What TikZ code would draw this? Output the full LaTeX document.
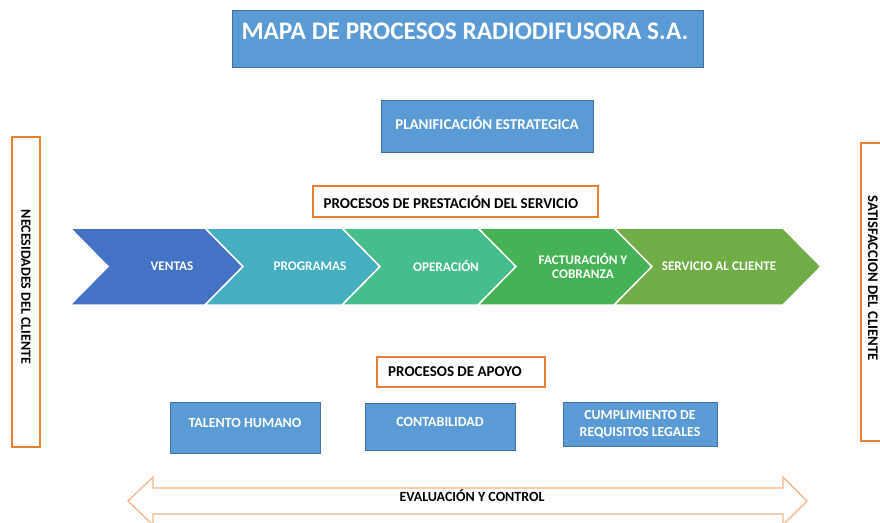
\documentclass[tikz,border=0pt]{standalone}
\usepackage{fontspec}
\setmainfont{Carlito}
\usepackage{xcolor}
\usetikzlibrary{positioning}

\definecolor{boxblue}{HTML}{5B9BD5}
\definecolor{boxedge}{HTML}{41719C}
\definecolor{orng}{HTML}{ED7D31}
\definecolor{lightorng}{HTML}{F4B183}
\definecolor{cventas}{HTML}{4472C4}
\definecolor{cprog}{HTML}{45AEC0}
\definecolor{coper}{HTML}{46BE8C}
\definecolor{cfact}{HTML}{45B255}
\definecolor{cserv}{HTML}{70AD47}

\tikzset{
  bluebox/.style={draw=boxedge, fill=boxblue, text=white, font=\bfseries\fontsize{13.8}{17}\selectfont, align=center},
  bluetext/.style={text=white, font=\bfseries\fontsize{14}{16}\selectfont},
  orangebox/.style={draw=orng, line width=2pt, fill=white, font=\bfseries\fontsize{15}{17}\selectfont},
  sidetext/.style={rotate=-90, font=\bfseries\fontsize{14.3}{16}\selectfont},
  chevtext/.style={text=white, font=\bfseries\fontsize{13.2}{15}\selectfont, align=center},
}

\begin{document}
\begin{tikzpicture}[x=1pt, y=-1pt]
        \useasboundingbox (0,0) rectangle (880,522);

        % titulo
        \node[bluebox, minimum width=471, minimum height=57, anchor=north west] (MAPA) at (232,10) {};
        \node[text=white, font=\bfseries\fontsize{25.3}{28}\selectfont, anchor=west] (T) at (238,31) {MAPA DE PROCESOS RADIODIFUSORA S.A.};
        \node[bluebox, minimum width=212, minimum height=52] (PE) at (487,126) {};
        \node[bluetext, font=\bfseries\fontsize{15}{17}\selectfont] (PEt) at (487,123) {PLANIFICACIÓN ESTRATEGICA};

        % procesos de prestacion
        \node[orangebox, minimum width=285, minimum height=31] (PPS) at (455.5,201.5) {};
        \node[font=\bfseries\fontsize{15}{17}\selectfont] (PPSt) at (451,202) {PROCESOS DE PRESTACIÓN DEL SERVICIO};

        \foreach \a/\b/\c in {70/205/cventas, 205/342/cprog, 342/478/coper, 478/614/cfact, 614/783/cserv}
          \filldraw[fill=\c, draw=white, line width=1.5pt]
            (\a,228) -- (\b,228) -- (\b+38,266.5) -- (\b,305) -- (\a,305) -- (\a+38,266.5) -- cycle;
        \node[chevtext] (V) at (172,266) {VENTAS};
        \node[chevtext] (P) at (310,266) {PROGRAMAS};
        \node[chevtext] (O) at (446,266) {OPERACIÓN};
        \node[chevtext] (F) at (583,266) {FACTURACIÓN Y\\[-1pt]COBRANZA};
        \node[chevtext] (S) at (719,266) {SERVICIO AL CLIENTE};

        % procesos de apoyo
        \node[orangebox, minimum width=168, minimum height=30] (PA) at (461,372) {};
        \node[font=\bfseries\fontsize{15}{17}\selectfont] (PAt) at (455,372) {PROCESOS DE APOYO};
        \node[bluebox, minimum width=150, minimum height=51] (TH) at (245,427.5) {};
        \node[bluetext] (THt) at (245,423) {TALENTO HUMANO};
        \node[bluebox, minimum width=150, minimum height=47] (CO) at (440,426.5) {};
        \node[bluetext] (COt) at (440,422) {CONTABILIDAD};
        \node[bluebox, minimum width=154, minimum height=44] (CL) at (640,424) {CUMPLIMIENTO DE\\REQUISITOS LEGALES};

        % cliente
        \node[draw=orng, line width=2pt, minimum width=28, minimum height=310] (NC) at (26,292) {};
        \node[sidetext, font=\bfseries\fontsize{14}{16}\selectfont] (NCt) at (26,287) {NECESIDADES DEL CLIENTE};
        \node[draw=orng, line width=2pt, minimum width=30, minimum height=298] (SC) at (876,292) {};
        \node[sidetext, font=\bfseries\fontsize{14.7}{16}\selectfont] (SCt) at (873,278) {SATISFACCION DEL CLIENTE};

        % evaluacion
        \draw[lightorng, line width=1.2pt] (128,501) -- (153,477) -- (153,488) -- (783,488) -- (783,477) -- (807,501)
          -- (783,525) -- (783,514) -- (153,514) -- (153,525) -- cycle;
        \node[font=\bfseries\fontsize{14}{16}\selectfont] (EC) at (472,496) {EVALUACIÓN Y CONTROL};
    \end{tikzpicture}
\end{document}
